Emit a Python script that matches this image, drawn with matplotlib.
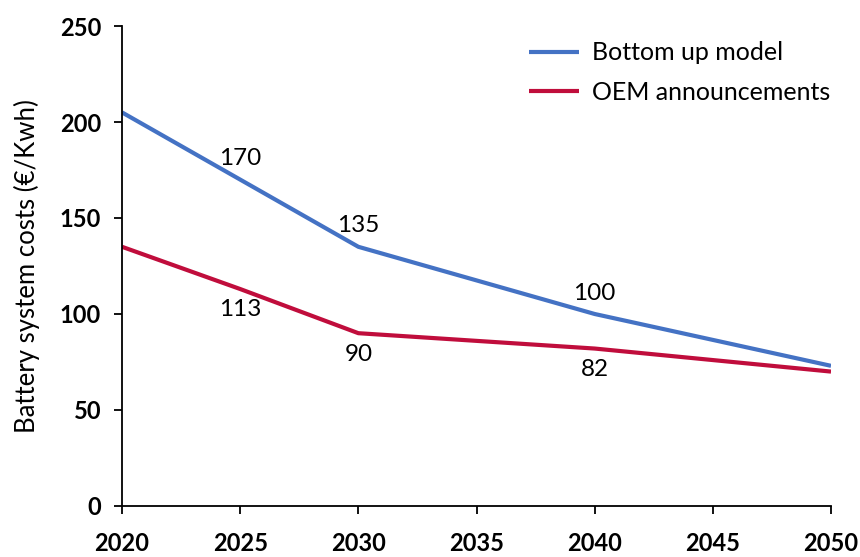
import matplotlib
matplotlib.use("Agg")
import matplotlib.pyplot as plt

years = [2020, 2025, 2030, 2040, 2050]
bottom_up = [205, 170, 135, 100, 73]
oem = [135, 113, 90, 82, 70]

bu_labels = {2025: 170, 2030: 135, 2040: 100}
oem_labels = {2025: 113, 2030: 90, 2040: 82}

plt.rcParams['font.family'] = ['Lato', 'DejaVu Sans']

fig = plt.figure(figsize=(8.6, 5.57), dpi=100)
ax = fig.add_axes([0.1419, 0.0916, 0.8244, 0.8617])

blue = '#4472C4'
red = '#C00D3C'
ax.plot(years, bottom_up, color=blue, lw=3, label='Bottom up model', solid_capstyle='butt')
ax.plot(years, oem, color=red, lw=3, label='OEM announcements', solid_capstyle='butt')

for x, v in bu_labels.items():
    y = bottom_up[years.index(x)]
    ax.annotate(str(v), (x, y), xytext=(0, 15), textcoords='offset points',
                ha='center', va='center', fontsize=17.5)
for x, v in oem_labels.items():
    y = oem[years.index(x)]
    ax.annotate(str(v), (x, y), xytext=(0, -15), textcoords='offset points',
                ha='center', va='center', fontsize=17.5)

ax.set_xlim(2020, 2050)
ax.set_ylim(0, 250)
ax.set_xticks(range(2020, 2051, 5))
ax.set_yticks(range(0, 251, 50))
for s in ['top', 'right']:
    ax.spines[s].set_visible(False)
for s in ['left', 'bottom']:
    ax.spines[s].set_linewidth(1.3)
ax.tick_params(direction='out', length=6, width=1.3, labelsize=17)
ax.tick_params(axis='x', pad=13)
ax.tick_params(axis='y', pad=9)
for lab in ax.get_xticklabels() + ax.get_yticklabels():
    lab.set_fontweight('bold')
ax.set_ylabel('Battery system costs (€/Kwh)', fontsize=18.5, labelpad=14)

leg = ax.legend(loc='upper right', frameon=False, fontsize=18, handlelength=2.0,
                handletextpad=0.5, labelspacing=0.65, bbox_to_anchor=(1.03, 1.015))

fig.savefig('out.png', dpi=100)
